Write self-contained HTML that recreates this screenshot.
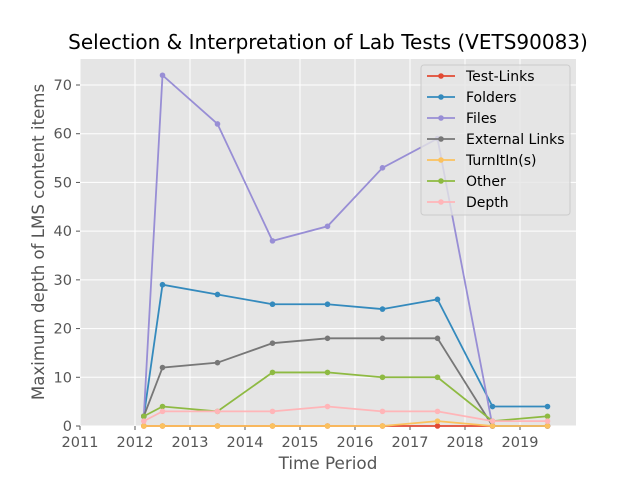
<!DOCTYPE html>
<html><head><meta charset="utf-8"><style>
body{margin:0;background:#fff;font-family:"DejaVu Sans","Liberation Sans",sans-serif;}
</style></head><body>
<svg width="640" height="480" xmlns="http://www.w3.org/2000/svg">
<text x="328" y="49" text-anchor="middle" font-size="20" fill="#000">Selection &amp; Interpretation of Lab Tests (VETS90083)</text>
<rect x="80" y="59" width="496" height="367" fill="#e5e5e5"/>
<g id="grid"></g><g id="ticks"></g><g id="series"></g>
<text x="328" y="469" text-anchor="middle" font-size="16.8" fill="#555">Time Period</text>
<text transform="translate(44,242) rotate(-90)" text-anchor="middle" font-size="16.6" fill="#555">Maximum depth of LMS content items</text>
<g id="legend"></g>
</svg>
<script>
const xs=[2012.16,2012.5,2013.5,2014.5,2015.5,2016.5,2017.5,2018.5,2019.5];
const names=["Test-Links","Folders","Files","External Links","TurnItIn(s)","Other","Depth"];
const colors=["#e24a33","#348abd","#988ed5","#777777","#fbc15e","#8eba42","#ffb5b8"];
const testLinks=[0,0,0,0,0,0,0,0,0];
const folders=[2,29,27,25,25,24,26,4,4];
const files=[2,72,62,38,41,53,59,0,0];
const external=[2,12,13,17,18,18,18,0,0];
const turnitin=[0,0,0,0,0,0,1,0,0];
const other=[2,4,3,11,11,10,10,1,2];
const depth=[1,3,3,3,4,3,3,1,1];
const series=[testLinks,folders,files,external,turnitin,other,depth];
const xTicks=[2011,2012,2013,2014,2015,2016,2017,2018,2019];
const yTicks=[0,10,20,30,40,50,60,70];
const X=v=>80+(v-2011)*55, Y=v=>426-v*(341/70);
const NS="http://www.w3.org/2000/svg";
function mk(t,a,p){const e=document.createElementNS(NS,t);for(const k in a)e.setAttribute(k,a[k]);p.appendChild(e);return e;}
const g=document.getElementById('grid'),tk=document.getElementById('ticks');
xTicks.forEach(v=>{const x=X(v);
const l=mk('line',{x1:x,x2:x,y1:59,y2:426,stroke:'#fff','stroke-width':1},g);


mk('line',{x1:x,x2:x,y1:426,y2:430,stroke:'#555'},tk);
const t=mk('text',{x:x,y:447,'text-anchor':'middle','font-size':14.5,fill:'#555'},tk);t.textContent=v;

});
yTicks.forEach(v=>{const y=Y(v);
const l=mk('line',{x1:80,x2:576,y1:y,y2:y,stroke:'#fff','stroke-width':1},g);


mk('line',{x1:76,x2:80,y1:y,y2:y,stroke:'#555'},tk);
const t=mk('text',{x:72,y:y+5,'text-anchor':'end','font-size':14.5,fill:'#555'},tk);t.textContent=v;

});
const sg=document.getElementById('series');
series.forEach((s,i)=>{const grp=mk('g',{},sg);


mk('polyline',{points:s.map((v,j)=>X(xs[j])+','+Y(v)).join(' '),fill:'none',stroke:colors[i],'stroke-width':1.8},grp);
s.forEach((v,j)=>{const c=mk('circle',{cx:X(xs[j]),cy:Y(v),r:2.8,fill:colors[i]},grp);

});});
const lg=document.getElementById('legend');
const box=mk('rect',{x:421,y:65,width:149,height:150,rx:3,fill:'#e5e5e5',stroke:'#ccc','fill-opacity':0.8},lg);


names.forEach((n,i)=>{const y=76+i*21;const e=mk('g',{},lg);


mk('line',{x1:427,x2:455,y1:y,y2:y,stroke:colors[i],'stroke-width':1.8},e);
mk('circle',{cx:441,cy:y,r:2.8,fill:colors[i]},e);
const t=mk('text',{x:466,y:y+5,'font-size':14,fill:'#000'},e);t.textContent=n;});
</script>
</body></html>
